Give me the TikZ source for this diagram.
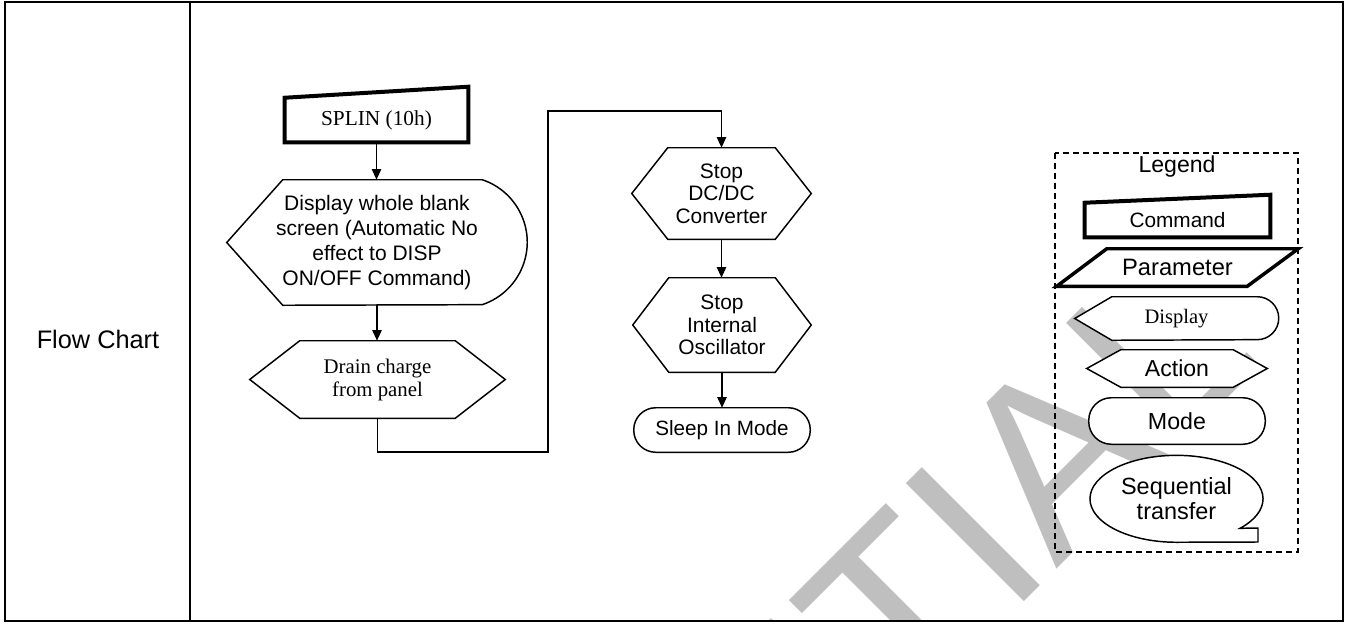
\documentclass[tikz,border=0pt]{standalone}
\usepackage{fontspec}
\setmainfont{Liberation Sans}
\newfontfamily\tms{Liberation Serif}
\usetikzlibrary{arrows.meta,calc}
\pgfdeclarelayer{wm}
\pgfdeclarelayer{bg}
\pgfsetlayers{wm,bg,main}
\newcommand\fsz[2]{\fontsize{#1}{#2}\selectfont}
\begin{document}
\begin{tikzpicture}[x=0.75pt,y=-0.75pt,
  lbl/.style={inner sep=0pt, align=center},
  frm/.style={line width=1.5pt},
  shp/.style={line width=1.1pt, fill=white, line join=miter},
  thk/.style={line width=3pt, fill=white, line join=miter},
  arr/.style={line width=1.2pt, -{Triangle[length=8pt,width=7pt]}},
  leg/.style={line width=1.1pt, dash pattern=on 4.5pt off 3pt}]
\useasboundingbox (0,0) rectangle (1346,625);
% watermark
\begin{pgfonlayer}{wm}
\begin{scope}
\clip (5,2) rectangle (1343,621);
\node[anchor=base, rotate=45, inner sep=0pt, text=black!25, font=\fsz{182}{182}] (wmark) at (637,989) {CONFIDENTIAL};
\end{scope}
\end{pgfonlayer}
% frame
\draw[frm] (5,2) rectangle (1343,621);
\draw[frm] (190,2) -- (190,621);
\node[lbl, font=\fsz{19}{23}] (fc) at (98,339) {Flow Chart};
% flow nodes
\node[lbl, minimum width=183*0.75pt, minimum height=44*0.75pt, font=\tms\fsz{16}{19}] (spl) at (376.5,120) {SPLIN (10h)};
\node[lbl, minimum width=300*0.75pt, minimum height=125*0.75pt, font=\fsz{15.75}{18.75}] (disp) at (377,242.5) {Display whole blank\\screen (Automatic No\\effect to DISP\\ON/OFF Command)};
\node[lbl, minimum width=255*0.75pt, minimum height=77*0.75pt, font=\tms\fsz{15.6}{17.25}] (drain) at (377.5,379.5) {Drain charge\\from panel};
\node[lbl, minimum width=179*0.75pt, minimum height=91*0.75pt, font=\fsz{15.7}{17}] (stopa) at (721.5,193.5) {Stop\\DC/DC\\Converter};
\node[lbl, minimum width=178*0.75pt, minimum height=94*0.75pt, font=\fsz{15.7}{17}] (stopb) at (722,325) {Stop\\Internal\\Oscillator};
\node[lbl, minimum width=176*0.75pt, minimum height=44*0.75pt, font=\fsz{15.5}{18}] (sleep) at (722,430) {Sleep In Mode};
% legend nodes
\node[lbl, font=\fsz{17.3}{20}] (legt) at (1177,167) {Legend};
\node[lbl, minimum width=185*0.75pt, minimum height=34*0.75pt, font=\fsz{15.6}{18}] (lcmd) at (1177.5,220) {Command};
\node[lbl, minimum width=241*0.75pt, minimum height=37*0.75pt, font=\fsz{17.8}{20}] (lpar) at (1177.5,267.5) {Parameter};
\node[lbl, minimum width=203*0.75pt, minimum height=43*0.75pt, font=\tms\fsz{15.4}{18}] (ldisp) at (1176.5,318.5) {Display};
\node[lbl, minimum width=180*0.75pt, minimum height=37*0.75pt, font=\fsz{17.3}{20}] (lact) at (1177,368.5) {Action};
\node[lbl, minimum width=176*0.75pt, minimum height=46*0.75pt, font=\fsz{17.4}{20}] (lmode) at (1177,421) {Mode};
\node[lbl, minimum width=173*0.75pt, minimum height=87*0.75pt, font=\fsz{17.6}{19.3}] (lseq) at (1176.5,498.5) {Sequential\\transfer};
% shapes
\begin{pgfonlayer}{bg}
\draw[thk] (spl.south west) -- (spl.north west) -- ($(spl.north east)+(0,-11)$) -- (spl.south east) -- cycle;
\draw[shp] (disp.west) -- ($(disp.north west)+(56,0)$) -- ($(disp.north east)+(-45,0)$)
  arc[start angle=71.5, end angle=-71.5, radius=49.4pt] -- ($(disp.south west)+(56,0)$) -- cycle;
\draw[shp] (drain.west) -- ($(drain.north west)+(50,0)$) -- ($(drain.north east)+(-50,0)$) -- (drain.east) -- ($(drain.south east)+(-50,0)$) -- ($(drain.south west)+(50,0)$) -- cycle;
\draw[shp] (stopa.west) -- ($(stopa.north west)+(36,0)$) -- ($(stopa.north east)+(-36,0)$) -- (stopa.east) -- ($(stopa.south east)+(-36,0)$) -- ($(stopa.south west)+(36,0)$) -- cycle;
\draw[shp] (stopb.west) -- ($(stopb.north west)+(36,0)$) -- ($(stopb.north east)+(-36,0)$) -- (stopb.east) -- ($(stopb.south east)+(-36,0)$) -- ($(stopb.south west)+(36,0)$) -- cycle;
\draw[shp, rounded corners=16.5pt] (sleep.south west) rectangle (sleep.north east);
% legend shapes
\draw[leg] (1055,153) rectangle (1298,552);
\draw[thk] (lcmd.south west) -- (lcmd.north west) -- ($(lcmd.north east)+(0,-8)$) -- (lcmd.south east) -- cycle;
\draw[line width=2.6pt, fill=white, line join=miter] (lpar.south west) -- ($(lpar.north west)+(50,0)$) -- (lpar.north east) -- ($(lpar.south east)+(-51,0)$) -- cycle;
\draw[shp] (ldisp.west) -- ($(ldisp.north west)+(37,0)$) -- ($(ldisp.north east)+(-21,0)$)
  arc[start angle=90, end angle=-90, radius=16.1pt] -- ($(ldisp.south west)+(37,0)$) -- cycle;
\draw[shp] (lact.west) -- ($(lact.north west)+(34,0)$) -- ($(lact.north east)+(-34,0)$) -- (lact.east) -- ($(lact.south east)+(-34,0)$) -- ($(lact.south west)+(34,0)$) -- cycle;
\draw[shp, rounded corners=17pt] (lmode.south west) rectangle (lmode.north east);
\draw[shp] (lseq.south) arc[start angle=-90, end angle=-402.8, x radius=64.9pt, y radius=32.6pt]
  -- ($(lseq.center)+(81.5,29.5)$) -- ($(lseq.center)+(81.5,43.5)$) -- cycle;
\end{pgfonlayer}
% connectors
\coordinate (j1) at (548,452);
\coordinate (j2) at (548,111);
\draw[arr] (spl.south) -- (spl.south |- disp.north);
\draw[arr] (disp.south) -- (disp.south |- drain.north);
\draw[arr] (drain.south) |- (j1) -- (j2) -| (stopa.north);
\draw[arr] (stopa.south) -- (stopa.south |- stopb.north);
\draw[arr] (stopb.south) -- (stopb.south |- sleep.north);
\end{tikzpicture}
\end{document}
